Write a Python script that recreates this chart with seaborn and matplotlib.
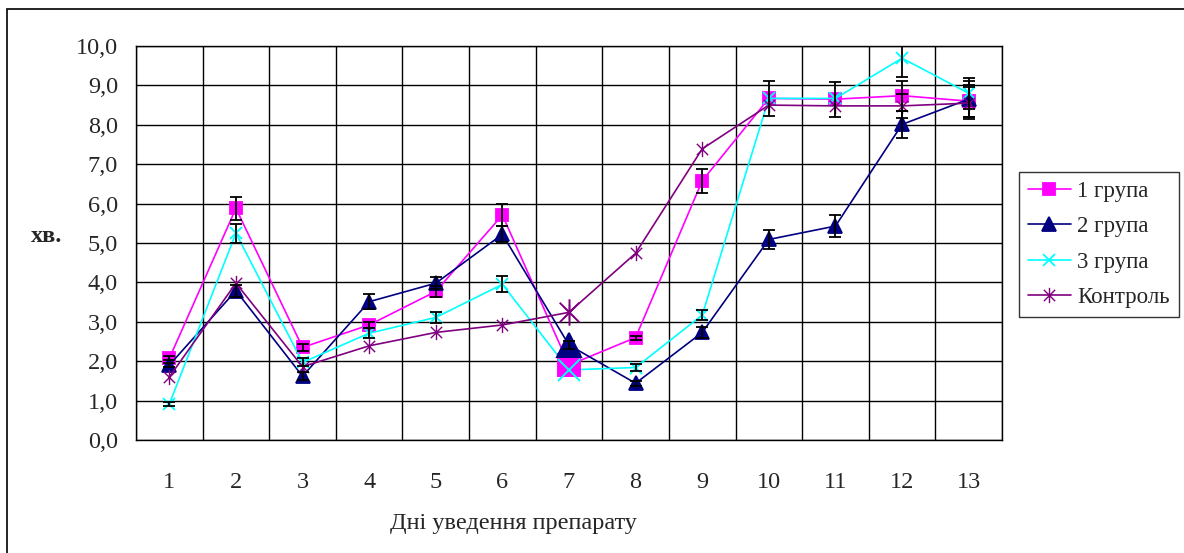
import numpy as np
import pandas as pd
import matplotlib
matplotlib.use("Agg")
import matplotlib.pyplot as plt
from matplotlib.path import Path
from matplotlib.patches import Rectangle
import seaborn as sns

days = list(range(1, 14))
series_names = ["1 група", "2 група", "3 група", "Контроль"]

g1 = [2.07, 5.88, 2.35, 2.92, 3.77, 5.71, 1.90, 2.60, 6.58, 8.67, 8.65, 8.74, 8.60]
g2 = [1.90, 3.79, 1.62, 3.51, 3.98, 5.22, 2.41, 1.44, 2.73, 5.09, 5.43, 8.01, 8.65]
g3 = [0.91, 5.25, 1.97, 2.71, 3.11, 3.95, 1.78, 1.84, 3.17, 8.67, 8.67, 9.69, 8.80]
ctrl = [1.60, 3.98, 1.86, 2.39, 2.73, 2.92, 3.24, 4.74, 7.39, 8.50, 8.48, 8.48, 8.55]

g1_err = [0.05, 0.30, 0.08, 0.08, 0.15, 0.27, 0.00, 0.05, 0.31, 0.44, 0.44, 0.38, 0.40]
g2_err = [0.05, 0.15, 0.10, 0.19, 0.16, 0.20, 0.10, 0.06, 0.15, 0.25, 0.27, 0.35, 0.45]
g3_err = [0.05, 0.24, 0.10, 0.12, 0.13, 0.20, 0.00, 0.10, 0.13, 0.00, 0.00, 0.47, 0.40]
ctrl_err = [0.00, 0.00, 0.00, 0.00, 0.00, 0.00, 0.00, 0.00, 0.00, 0.00, 0.00, 0.30, 0.40]

y_ticks = [0, 1, 2, 3, 4, 5, 6, 7, 8, 9, 10]
y_label = "хв."
x_label = "Дні уведення препарату"

colors = ["#FF00FF", "#000080", "#00FFFF", "#800080"]

star = Path([(-1, -1), (1, 1), (-1, 1), (1, -1), (0, -1.35), (0, 1.35)],
            [Path.MOVETO, Path.LINETO, Path.MOVETO, Path.LINETO, Path.MOVETO, Path.LINETO])
markers = ["s", "^", "x", star]
msizes = [8.5, 9.5, 8, 11]
mews = [1.3, 1.3, 1.3, 1.0]
big_sizes = [16, 17, 16, 19]

sns.set_style("white")
plt.rcParams["font.family"] = ["Liberation Serif", "DejaVu Serif"]
FS = 17.5
LFS = 16.5

fig = plt.figure(figsize=(11.84, 5.53), dpi=100)
ax = fig.add_axes([136 / 1184, 1 - 440 / 553, (1002 - 136) / 1184, (440 - 46) / 553])

data = [g1, g2, g3, ctrl]
errs = [g1_err, g2_err, g3_err, ctrl_err]

for name, vals, err, c, m, ms, mw, bs in zip(series_names, data, errs, colors, markers, msizes, mews, big_sizes):
    df = pd.DataFrame({"day": days, "value": vals})
    sns.lineplot(data=df, x="day", y="value", ax=ax, color=c, lw=1.2,
                 marker=m, markersize=ms, mec=c, mfc=(c if m in ("s", "^") else "none"),
                 mew=mw, label=name, legend=False, zorder=3)
    # enlarged markers on day 7
    sub = df.iloc[6:7]
    ax.plot(sub["day"], sub["value"], linestyle="none", marker=m, markersize=bs,
            mec=c, mfc=(c if m in ("s", "^") else "none"), mew=1.4, zorder=4)
    e = np.array(err)
    mask = e > 0
    ax.errorbar(np.array(days)[mask], np.array(vals)[mask], yerr=e[mask], fmt="none",
                ecolor="black", elinewidth=1.3, capsize=4.5, capthick=1.3, zorder=5)

ax.set_xlim(0.5, 13.5)
ax.set_ylim(0, 10)
ax.set_xticks(np.arange(0.5, 14, 1.0))
ax.set_xticklabels([])
ax.set_xticks(days, minor=True)
ax.set_xticklabels([str(d) for d in days], minor=True, fontsize=FS)
ax.tick_params(axis="x", which="major", length=7, width=1, color="black", direction="out")
ax.tick_params(axis="x", which="minor", length=0, pad=23)
ax.set_yticks(y_ticks)
ax.set_yticklabels([f"{v:.1f}".replace(".", ",") for v in y_ticks], fontsize=FS)
ax.tick_params(axis="y", length=7, width=1, color="black", direction="out", pad=6)
ax.grid(True, which="major", color="black", lw=1)
for s in ax.spines.values():
    s.set_color("black")
    s.set_linewidth(1)
ax.set_xlabel("")
ax.set_ylabel("")

fig.text(47 / 1184, 1 - 237 / 553, y_label, fontsize=FS, fontweight="bold",
         ha="center", va="center")
fig.text(513 / 1184, 1 - 524 / 553, x_label, fontsize=FS, ha="center", va="center")

# legend
hs, ls = [], []
for name, c, m, ms, mw in zip(series_names, colors, markers, msizes, mews):
    h, = ax.plot([], [], color=c, lw=1.2, marker=m, markersize=ms, mec=c,
                 mfc=(c if m in ("s", "^") else "none"), mew=mw)
    hs.append(h)
    ls.append(name)
leg = fig.legend(hs, ls, loc="upper left", bbox_to_anchor=(1019 / 1184, 1 - 172 / 553),
                 bbox_transform=fig.transFigure, frameon=True, fancybox=False,
                 fontsize=LFS, handlelength=1.85, handletextpad=0.3, labelspacing=0.62,
                 borderpad=0.4, borderaxespad=0)
leg.get_frame().set_edgecolor("black")
leg.get_frame().set_linewidth(1)

fig.patches.append(Rectangle((7 / 1184, -0.05), 1.2, 1 - 9 / 553 + 0.05,
                             transform=fig.transFigure, fill=False,
                             edgecolor="black", lw=1.2))

fig.savefig("out.png", dpi=100)
